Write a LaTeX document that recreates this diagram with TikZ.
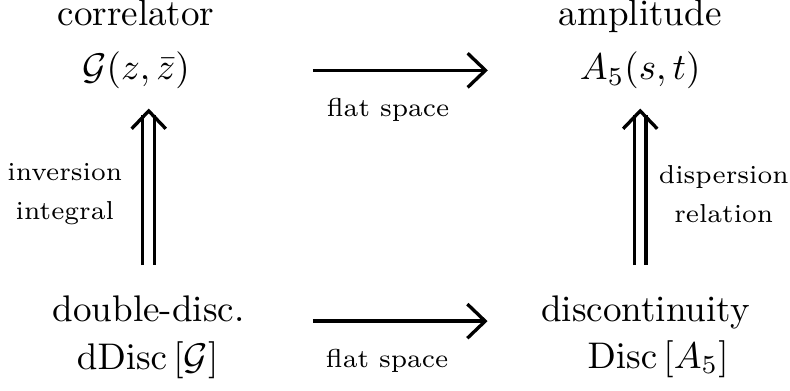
\documentclass[tikz,border=0pt]{standalone}
\usepackage{amsmath,amssymb}
\usepackage{tikz}
\usetikzlibrary{arrows.meta,positioning}
\tikzset{
  word/.style={inner sep=0pt,anchor=base},
  lbl/.style={inner sep=0pt,font=\scriptsize,align=center},
  harr/.style={-{Straight Barb[length=4.8pt,width=9.2pt]},line width=0.9pt},
  dshaft/.style={double,double distance=2.3pt,line width=0.9pt},
  dtip/.style={draw=white,line width=0.9pt,-{Straight Barb[length=4.8pt,width=9.2pt,black]}},
}
\begin{document}
\begin{tikzpicture}[x=1cm,y=1cm]
  \useasboundingbox (0,0) rectangle (7.49,-3.70);
  % top row
  \node[word] (corrtxt) at (1.29,-0.245) {correlator};
  \node[word] (corr) at (1.29,-0.755) {$\mathcal{G}(z,\bar{z})$};
  \node[word] (amptxt) at (6.07,-0.245) {amplitude};
  \node[word] (amp) at (6.07,-0.755) {$A_5(s,t)$};
  % bottom row
  \node[word] (ddtxt) at (1.41,-3.045) {double-disc.};
  \node[word] (ddisc) at (1.40,-3.50) {$\mathrm{dDisc}\left[\mathcal{G}\right]$};
  \node[word] (disctxt) at (6.12,-3.045) {discontinuity};
  \node[word] (disc) at (6.24,-3.49) {$\mathrm{Disc}\left[A_5\right]$};
  % flat space limits
  \draw[harr,shorten <=47.7pt,shorten >=41.1pt] (corr.center) -- (amp.center)
    node[lbl,below=7.2pt,midway] {flat space};
  \draw[harr,shorten <=44.3pt,shorten >=42.6pt] (ddtxt.base) -- (disctxt.base)
    node[lbl,below=7.2pt,pos=0.48] {flat space};
  % vertical maps (double shaft, then the tip)
  \draw[dshaft,shorten <=8pt,shorten >=6.8pt] (ddtxt.north) -- (ddtxt.north |- corr.south);
  \draw[dtip,shorten <=8pt,shorten >=5.1pt] (ddtxt.north) -- (ddtxt.north |- corr.south)
    node[lbl,left=6.7pt,pos=0.49] {inversion\\[2.6pt]integral};
  \draw[dshaft,shorten <=8pt,shorten >=6.8pt] (amp.south |- disctxt.north) -- (amp.south);
  \draw[dtip,shorten <=8pt,shorten >=5.1pt] (amp.south |- disctxt.north) -- (amp.south)
    node[lbl,right=4.6pt,pos=0.49] {dispersion\\[2.6pt]relation};
\end{tikzpicture}
\end{document}
